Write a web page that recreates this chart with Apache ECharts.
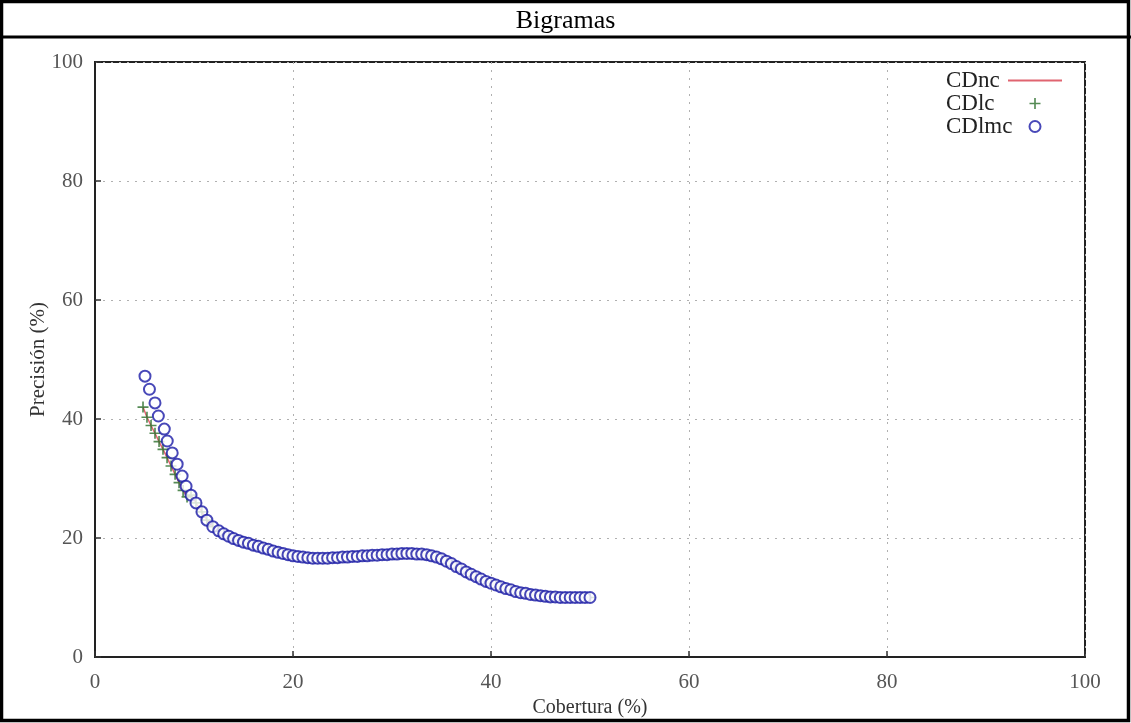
<!DOCTYPE html>
<html>
<head>
<meta charset="utf-8">
<script src="https://cdn.jsdelivr.net/npm/echarts@6/dist/echarts.min.js"></script>
<style>
html,body{margin:0;padding:0;background:#fff;}
#chart{width:1131px;height:723px;}
</style>
</head>
<body>
<div id="chart"></div>
<script>
// ---- data ----
var titleText = 'Bigramas';
var xAxisName = 'Cobertura (%)';
var yAxisName = 'Precisión (%)';
var seriesNames = ['CDnc', 'CDlc', 'CDlmc'];

// CDlmc (blue circles)
var lmcX = [5.05,5.5,6.06,6.4,7.0,7.3,7.8,8.3,8.8,9.2,9.7,10.2,10.8,11.3,11.9,12.5,
  13.0,13.5,14.0,14.5,15.0,15.5,16.0,16.5,17.0,17.5,18.0,18.5,19.0,19.5,20.0,20.5,
  21.0,21.5,22.0,22.5,23.0,23.5,24.0,24.5,25.0,25.5,26.0,26.5,27.0,27.5,28.0,28.5,
  29.0,29.5,30.0,30.5,31.0,31.5,32.0,32.5,33.0,33.5,34.0,34.5,35.0,35.5,36.0,36.5,
  37.0,37.5,38.0,38.5,39.0,39.5,40.0,40.5,41.0,41.5,42.0,42.5,43.0,43.5,44.0,44.5,
  45.0,45.5,46.0,46.5,47.0,47.5,48.0,48.5,49.0,49.5,50.0];
var lmcY = [47.2,45.0,42.7,40.5,38.3,36.3,34.3,32.4,30.4,28.7,27.2,25.9,24.4,23.0,21.9,21.2,
  20.7,20.3,19.9,19.6,19.3,19.1,18.8,18.6,18.3,18.1,17.8,17.6,17.4,17.2,17.0,16.9,
  16.8,16.7,16.6,16.6,16.6,16.6,16.7,16.7,16.8,16.8,16.9,16.9,17.0,17.0,17.1,17.1,
  17.2,17.2,17.3,17.3,17.4,17.4,17.4,17.3,17.3,17.2,17.0,16.8,16.5,16.1,15.7,15.2,
  14.8,14.3,13.9,13.5,13.1,12.7,12.4,12.1,11.8,11.5,11.3,11.0,10.8,10.7,10.5,10.4,
  10.3,10.2,10.1,10.1,10.0,10.0,10.0,10.0,10.0,10.0,10.0];

// CDlc (green +) and CDnc (red line): distinct start, then same path as CDlmc
var lcHeadX = [4.85,5.25,5.66,6.06,6.47,6.87,7.28,7.68,8.09,8.49,8.9,9.3];
var lcHeadY = [42.0,40.3,38.9,37.6,36.2,34.9,33.5,32.1,30.7,29.3,28.0,26.9];
var lcTailStart = 10; // index in lmc arrays where the curves merge

function pairs(xs, ys){ return xs.map(function(x,i){ return [x, ys[i]]; }); }
var lmcData = pairs(lmcX, lmcY);
var lcData = pairs(lcHeadX, lcHeadY).concat(pairs(lmcX.slice(lcTailStart), lmcY.slice(lcTailStart)));
var ncData = lcData.slice();

var serif = '"Liberation Serif", "DejaVu Serif", serif';
var chart = echarts.init(document.getElementById('chart'), null, {renderer:'canvas'});

var axisCommon = {
  min: 0, max: 100, interval: 20,
  axisLine: {show: true, onZero: false, lineStyle: {color: '#222', width: 2}},
  axisTick: {show: true, inside: true, length: 6, lineStyle: {color: '#333', width: 1.5}},
  splitLine: {show: true, lineStyle: {color: '#b0b0b0', type: [2, 6], width: 1}},
  axisLabel: {fontFamily: serif, fontSize: 21, color: '#555'}
};

chart.setOption({
  animation: false,
  backgroundColor: '#fff',
  title: {
    text: titleText, left: 'center', top: 3,
    textStyle: {fontFamily: serif, fontSize: 26, fontWeight: 'normal', color: '#000'}
  },
  grid: {left: 95, right: 46, top: 62, bottom: 66, show: true, borderColor: '#222', borderWidth: 2, containLabel: false},
  legend: {
    orient: 'vertical', left: 941, top: 64, align: 'right',
    itemWidth: 54, itemHeight: 11, itemGap: 0,
    formatter: '{t|{name}}',
    textStyle: {
      fontFamily: serif, fontSize: 23, color: '#222', lineHeight: 23,
      rich: {t: {fontFamily: serif, fontSize: 23, color: '#222', width: 57, align: 'left', lineHeight: 23}}
    },
    data: [
      {name: 'CDnc', icon: 'path://M0,0H54V2H0Z'},
      {name: 'CDlc'},
      {name: 'CDlmc'}
    ]
  },
  xAxis: Object.assign({}, axisCommon, {
    type: 'value',
    name: xAxisName, nameLocation: 'middle', nameGap: 41,
    nameTextStyle: {fontFamily: serif, fontSize: 20, color: '#333'},
    axisLabel: Object.assign({}, axisCommon.axisLabel, {margin: 15})
  }),
  yAxis: Object.assign({}, axisCommon, {
    type: 'value',
    name: yAxisName, nameLocation: 'middle', nameGap: 46, nameRotate: 90,
    nameMoveOverlap: false,
    nameTextStyle: {fontFamily: serif, fontSize: 21, color: '#333'},
    axisLabel: Object.assign({}, axisCommon.axisLabel, {margin: 12})
  }),
  series: [
    {
      name: 'CDnc', type: 'line', data: ncData, symbol: 'none', showSymbol: false,
      lineStyle: {color: '#e06470', width: 1.5}, itemStyle: {color: '#e06470'}, z: 2
    },
    {
      name: 'CDlc', type: 'scatter', data: lcData,
      symbol: 'path://M4.25,0H5.75V4.25H10V5.75H5.75V10H4.25V5.75H0V4.25H4.25Z', symbolSize: 11,
      itemStyle: {color: '#2a6e2a'}, z: 3
    },
    {
      name: 'CDlmc', type: 'scatter', data: lmcData,
      symbol: 'emptyCircle', symbolSize: 11,
      itemStyle: {color: '#1a1aa6', borderColor: '#1a1aa6', borderWidth: 2.2}, z: 4
    }
  ],
  graphic: [
    {type: 'rect', shape: {x: 1.5, y: 1.5, width: 1127, height: 719}, style: {fill: null, stroke: '#000', lineWidth: 3.5}, silent: true, z: 100},
    {type: 'line', shape: {x1: 0, y1: 37, x2: 1131, y2: 37}, style: {stroke: '#000', lineWidth: 3}, silent: true, z: 100}
  ]
});
</script>
</body>
</html>
